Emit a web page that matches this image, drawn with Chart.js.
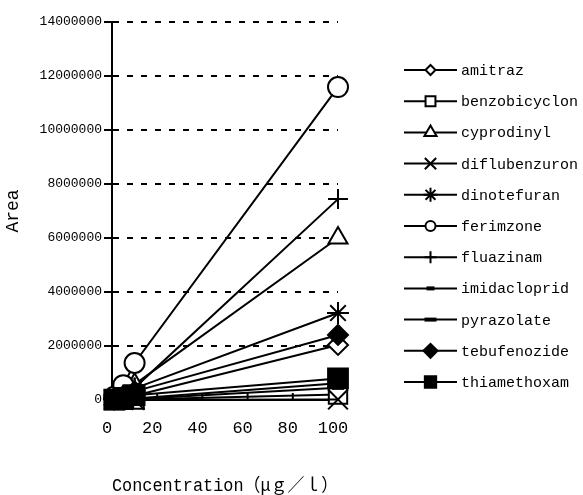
<!DOCTYPE html>
<html><head><meta charset="utf-8">
<script src="https://cdn.jsdelivr.net/npm/chart.js@4.4.1/dist/chart.umd.min.js"></script>
<style>html,body{margin:0;padding:0;background:#fff}#wrap{width:583px;height:495px}</style>
</head><body><div id="wrap"><canvas id="c" width="583" height="495"></canvas></div>
<script>
// ---- data ----
const concentrations = [1, 5, 10, 100];
const seriesNames = ["amitraz","benzobicyclon","cyprodinyl","diflubenzuron","dinotefuran","ferimzone","fluazinam","imidacloprid","pyrazolate","tebufenozide","thiamethoxam"];
const amitraz       = [20000, 80000, 160000, 2040000];
const benzobicyclon = [2000, 10000, 20000, 200000];
const cyprodinyl    = [50000, 250000, 580000, 6000000];
const diflubenzuron = [1000, 3000, 5000, 20000];
const dinotefuran   = [40000, 200000, 430000, 3220000];
const ferimzone     = [120000, 550000, 1370000, 11590000];
const fluazinam     = [40000, 200000, 450000, 7440000];
const imidacloprid  = [6000, 30000, 60000, 620000];
const pyrazolate    = [4000, 20000, 40000, 450000];
const tebufenozide  = [30000, 150000, 320000, 2410000];
const thiamethoxam  = [15000, 80000, 180000, 800000];
const seriesValues = [amitraz, benzobicyclon, cyprodinyl, diflubenzuron, dinotefuran, ferimzone, fluazinam, imidacloprid, pyrazolate, tebufenozide, thiamethoxam];
const xTickLabels = [0, 20, 40, 60, 80, 100];
const yTickLabels = [0, 2000000, 4000000, 6000000, 8000000, 10000000, 12000000, 14000000];

// ---- styles ----
const styles = [
  {ps:'rectRot',  fill:'#fff', r:10, lr:5,  bw:2},
  {ps:'rect',     fill:'#fff', r:13, lr:7,  bw:2},
  {ps:'triangle', fill:'#fff', r:11, lr:7,  bw:2},
  {ps:'crossRot', fill:'#fff', r:14, lr:8,  bw:2},
  {ps:'star',     fill:'#fff', r:11, lr:7,  bw:2},
  {ps:'circle',   fill:'#fff', r:10, lr:5,  bw:2},
  {ps:'cross',    fill:'#fff', r:10, lr:6,  bw:2},
  {ps:'line',     fill:'#000', r:5,  lr:4,  bw:4},
  {ps:'line',     fill:'#000', r:6,  lr:6,  bw:4},
  {ps:'rectRot',  fill:'#000', r:10, lr:7,  bw:2},
  {ps:'rect',     fill:'#000', r:14, lr:8,  bw:2}
];

const FONT = "'Liberation Mono', 'Noto Sans CJK JP', monospace";
Chart.defaults.font.family = FONT;
Chart.defaults.color = '#000';

const datasets = seriesNames.map((name, i) => ({
  label: name,
  data: concentrations.map((x, j) => ({x: x, y: seriesValues[i][j]})),
  borderColor: '#000',
  borderWidth: 2,
  pointStyle: styles[i].ps,
  pointRadius: styles[i].r,
  pointHoverRadius: styles[i].r,
  pointBorderWidth: styles[i].bw,
  pointBorderColor: '#000',
  pointBackgroundColor: styles[i].fill,
  backgroundColor: styles[i].fill,
  tension: 0,
  clip: false,
  order: -i
}));

const innerTicks = {
  id: 'innerTicks',
  beforeDatasetsDraw(chart) {
    const xs = chart.scales.x, ctx = chart.ctx;
    ctx.save();
    ctx.strokeStyle = '#000'; ctx.lineWidth = 2;
    xTickLabels.forEach(v => {
      if (v === 0) return;
      const px = xs.getPixelForValue(v);
      ctx.beginPath();
      ctx.moveTo(px, xs.top);
      ctx.lineTo(px, xs.top - 7);
      ctx.stroke();
    });
    ctx.restore();
  }
};

const customLegend = {
  id: 'customLegend',
  afterDraw(chart) {
    const ctx = chart.ctx;
    chart.data.datasets.forEach((ds, i) => {
      const y = 70 + i * 31.2;
      ctx.save();
      ctx.strokeStyle = '#000'; ctx.lineWidth = 2;
      ctx.beginPath(); ctx.moveTo(404, y); ctx.lineTo(457, y); ctx.stroke();
      ctx.fillStyle = styles[i].fill;
      ctx.lineWidth = styles[i].bw;
      Chart.helpers.drawPoint(ctx, {pointStyle: styles[i].ps, radius: styles[i].lr, borderWidth: styles[i].bw, rotation: 0}, 430.5, y);
      ctx.fillStyle = '#000';
      ctx.font = "15px " + FONT;
      ctx.textBaseline = 'middle';
      ctx.textAlign = 'left';
      ctx.fillText(ds.label, 461, y + 1);
      ctx.restore();
    });
  }
};

new Chart(document.getElementById('c'), {
  type: 'line',
  data: { datasets },
  plugins: [innerTicks, customLegend],
  options: {
    responsive: false,
    animation: false,
    layout: { padding: { top: 22, right: 245, bottom: 0, left: 0 } },
    plugins: { legend: { display: false }, tooltip: { enabled: false } },
    scales: {
      x: {
        type: 'linear', min: 0, max: 100,
        afterBuildTicks: s => { s.ticks = xTickLabels.map(v => ({value: v})); },
        afterFit: s => { s.height = 95; },
        grid: { display: true, drawOnChartArea: false, drawTicks: false },
        border: { color: '#000', width: 2 },
        ticks: { font: { size: 17 }, padding: 18, labelOffset: -5, color: '#000', maxRotation: 0,
                 callback: v => String(v) },
        title: { display: true, text: 'Concentration（μｇ／ｌ）', font: { size: 18, lineHeight: 1.0 }, padding: { top: 0, bottom: 0 }, color: '#000' }
      },
      y: {
        type: 'linear', min: 0, max: 14000000,
        afterBuildTicks: s => { s.ticks = yTickLabels.map(v => ({value: v})); },
        afterFit: s => { s.width = 112; },
        grid: { color: '#000', lineWidth: 2, drawTicks: true, tickLength: 8, tickColor: '#000', tickWidth: 2, tickBorderDash: [] },
        border: { color: '#000', width: 2, dash: [6, 8] },
        ticks: { font: { size: 13 }, padding: 2, color: '#000', callback: v => String(v) },
        title: { display: true, text: 'Area', font: { size: 18 }, padding: { top: 2, bottom: 0 }, color: '#000' }
      }
    }
  }
});
</script>
</body></html>
